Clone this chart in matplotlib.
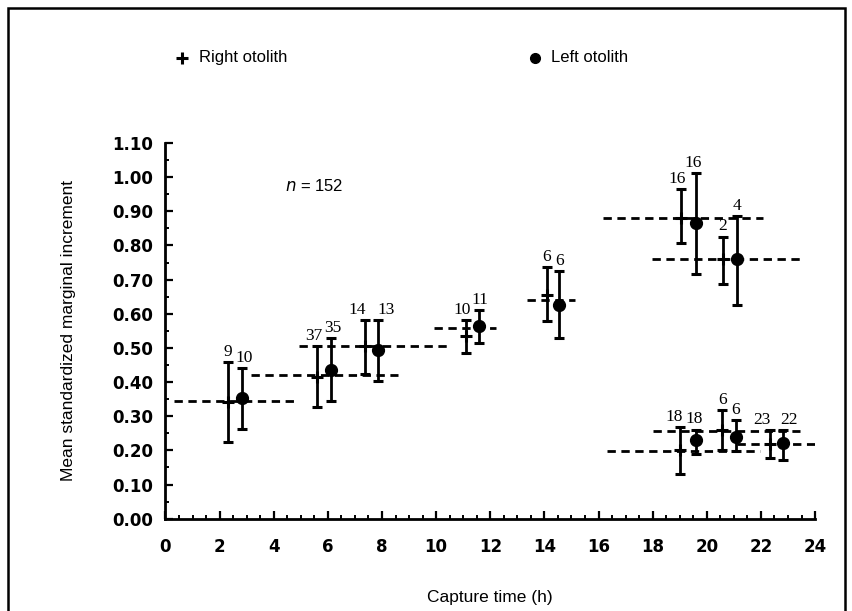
import matplotlib
matplotlib.use("Agg")
import matplotlib.pyplot as plt
from matplotlib.patches import Rectangle
from matplotlib.ticker import MultipleLocator, FormatStrFormatter
import numpy as np

# ---------------- data ----------------
# Right otolith (plus markers)
right_x = [2.32, 5.59, 7.37, 11.1, 14.08, 19.05, 20.59, 19.0, 20.57, 22.34]
right_y = [0.343, 0.415, 0.505, 0.535, 0.656, 0.880, 0.759, 0.201, 0.260, 0.218]
right_top = [0.460, 0.505, 0.583, 0.583, 0.737, 0.965, 0.826, 0.268, 0.319, 0.260]
right_bot = [0.226, 0.326, 0.424, 0.485, 0.579, 0.807, 0.687, 0.130, 0.201, 0.177]
right_n = [9, 37, 14, 10, 6, 16, 2, 18, 6, 23]

# Left otolith (filled circles)
left_x = [2.84, 6.11, 7.87, 11.6, 14.55, 19.59, 21.1, 19.59, 21.07, 22.81]
left_y = [0.353, 0.436, 0.494, 0.564, 0.625, 0.865, 0.759, 0.231, 0.240, 0.221]
left_top = [0.441, 0.528, 0.583, 0.612, 0.725, 1.013, 0.886, 0.261, 0.290, 0.260]
left_bot = [0.264, 0.346, 0.403, 0.514, 0.528, 0.715, 0.627, 0.189, 0.197, 0.172]
left_n = [10, 35, 13, 11, 6, 16, 4, 18, 6, 22]

# Sampling-period dashed lines
period_start = [0.3, 3.15, 4.95, 9.93, 13.35, 16.15, 17.99, 16.3, 18.0, 21.1]
period_end = [4.85, 8.6, 10.45, 12.2, 15.13, 22.09, 23.44, 21.97, 23.44, 24.06]
period_y = [0.345, 0.422, 0.505, 0.558, 0.639, 0.879, 0.759, 0.197, 0.258, 0.218]

x_ticks = [0, 2, 4, 6, 8, 10, 12, 14, 16, 18, 20, 22, 24]
y_ticks = [0.0, 0.1, 0.2, 0.3, 0.4, 0.5, 0.6, 0.7, 0.8, 0.9, 1.0, 1.1]

# horizontal nudges (points) of the sample-size labels
right_lab_dx = [0, -2, -5.5, -3, 0, -3, 0, -4, 0, -6]
left_lab_dx = [1.5, 1.5, 5.5, 0, 0, -2, 0, -1, 0, 4.5]

# ---------------- figure ----------------
plt.rcParams['lines.scale_dashes'] = False
fig = plt.figure(figsize=(8.53, 6.11), dpi=100)
ax = fig.add_axes([0.194, 0.151, 0.7615, 0.615])

# dashed period lines
for xs, xe, yv in zip(period_start, period_end, period_y):
    ax.plot([xs, xe], [yv, yv], color='black', lw=2.0, dashes=(6, 4), zorder=2)

# error bars
r_err = [np.array(right_y) - np.array(right_bot), np.array(right_top) - np.array(right_y)]
l_err = [np.array(left_y) - np.array(left_bot), np.array(left_top) - np.array(left_y)]
ax.errorbar(right_x, right_y, yerr=r_err, fmt='+', color='black', ms=8, mew=2.2,
            elinewidth=2.0, capsize=3.8, capthick=2.2, zorder=3)
ax.errorbar(left_x, left_y, yerr=l_err, fmt='o', color='black', ms=8.5,
            elinewidth=2.0, capsize=3.8, capthick=2.2, zorder=3)

# sample size labels
for x, t, n, dx in zip(right_x, right_top, right_n, right_lab_dx):
    ax.annotate(str(n), (x, t), xytext=(dx, 1.5), textcoords='offset points',
                ha='center', va='bottom', fontsize=12.5, family='Liberation Serif')
for x, t, n, dx in zip(left_x, left_top, left_n, left_lab_dx):
    ax.annotate(str(n), (x, t), xytext=(dx, 1.5), textcoords='offset points',
                ha='center', va='bottom', fontsize=12.5, family='Liberation Serif')

# axes styling
ax.set_xlim(0, 24)
ax.set_ylim(0, 1.10)
ax.spines['top'].set_visible(False)
ax.spines['right'].set_visible(False)
for s in ('left', 'bottom'):
    ax.spines[s].set_linewidth(2.0)
ax.set_xticks(x_ticks)
ax.set_yticks(y_ticks)
ax.xaxis.set_minor_locator(MultipleLocator(0.5))
ax.yaxis.set_minor_locator(MultipleLocator(0.05))
ax.yaxis.set_major_formatter(FormatStrFormatter('%.2f'))
ax.tick_params(which='major', direction='in', length=6, width=1.6)
ax.tick_params(which='minor', direction='in', length=3, width=1.4)
ax.tick_params(axis='x', which='major', pad=14)
ax.tick_params(axis='y', which='major', pad=9)
for lab in ax.get_xticklabels() + ax.get_yticklabels():
    lab.set_fontweight('bold')
    lab.set_fontsize(12)
    lab.set_family('DejaVu Sans')

ax.set_xlabel('Capture time (h)', fontsize=12.5, family='Liberation Sans')
ax.xaxis.set_label_coords(0.5, -0.19)
ax.set_ylabel('Mean standardized marginal increment', fontsize=12.5, family='Liberation Sans')
ax.yaxis.set_label_coords(-0.138, 0.5)

# n = 152
ax.text(4.4, 0.975, '$n$ = 152', fontsize=12, family='Liberation Sans',
        ha='left', va='center', math_fontfamily='dejavusans')

# legend drawn as text
leg_y = 1.35
ax.plot([0.6], [leg_y], marker='+', color='black', ms=8, mew=2.2, clip_on=False)
ax.text(1.25, leg_y, 'Right otolith', fontsize=12, family='Liberation Sans',
        ha='left', va='center', clip_on=False)
ax.plot([13.65], [leg_y], marker='o', color='black', ms=7, clip_on=False)
ax.text(14.25, leg_y, 'Left otolith', fontsize=12, family='Liberation Sans',
        ha='left', va='center', clip_on=False)

# outer frame
fig.patches.append(Rectangle((0.009, -0.05), 0.982, 1.037, transform=fig.transFigure,
                             fill=False, lw=1.8, edgecolor='black'))

fig.savefig('out.png', dpi=100)
